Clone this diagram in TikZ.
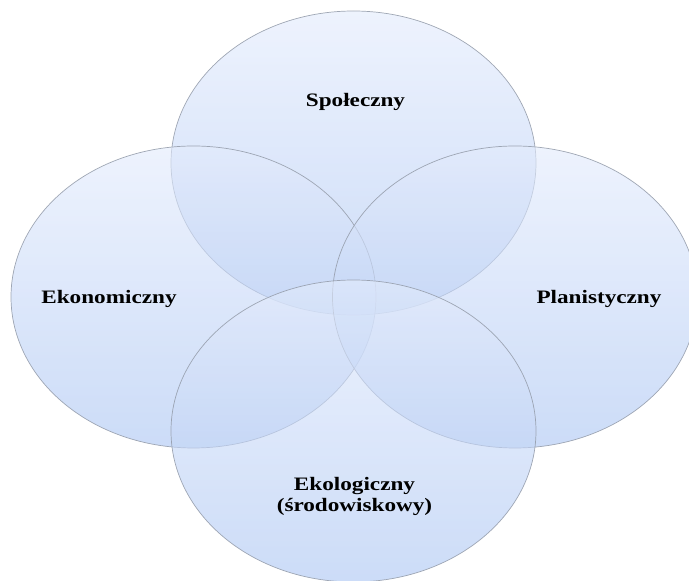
\documentclass[tikz,border=0pt]{standalone}
\usepackage{fontspec}
\setmainfont{Liberation Serif}
\usepackage{tikz}
\usetikzlibrary{positioning}
\usepackage{xcolor}
\definecolor{vnlight}{RGB}{227,235,252}
\definecolor{vndark}{RGB}{172,198,243}
\definecolor{vnedge}{RGB}{150,158,172}
\tikzstyle{sphere} = [top color=vnlight, bottom color=vndark, fill opacity=0.62, draw=vnedge, draw opacity=0.9, line width=0.7pt]
\tikzstyle{areatext} = [font=\fontsize{19}{20.5}\selectfont\bfseries, text=black, align=center, anchor=base, inner sep=0pt]
\newcommand{\widetext}[1]{\scalebox{1.22}[1]{#1}}

\begin{document}
\begin{tikzpicture}[x=1pt,y=1pt]
\useasboundingbox (0,0) rectangle (689,581);
% Areas
\shade[sphere] (353.5,418) ellipse (182.5 and 152);
\shade[sphere] (193.5,284) ellipse (182.5 and 151);
\shade[sphere] (515,284) ellipse (182.5 and 151);
\shade[sphere] (353.5,150) ellipse (182.5 and 151);

% Labels
\node (spoleczny) [areatext] at (355.5,474.3) {\widetext{Społeczny}};
\node (ekonomiczny) [areatext] at (109,277) {\widetext{Ekonomiczny}};
\node (planistyczny) [areatext] at (599,277.5) {\widetext{Planistyczny}};
\node (ekologiczny) [areatext] at (354.5,69.5) {\widetext{Ekologiczny}\\\widetext{(środowiskowy)}};
\end{tikzpicture}
\end{document}
